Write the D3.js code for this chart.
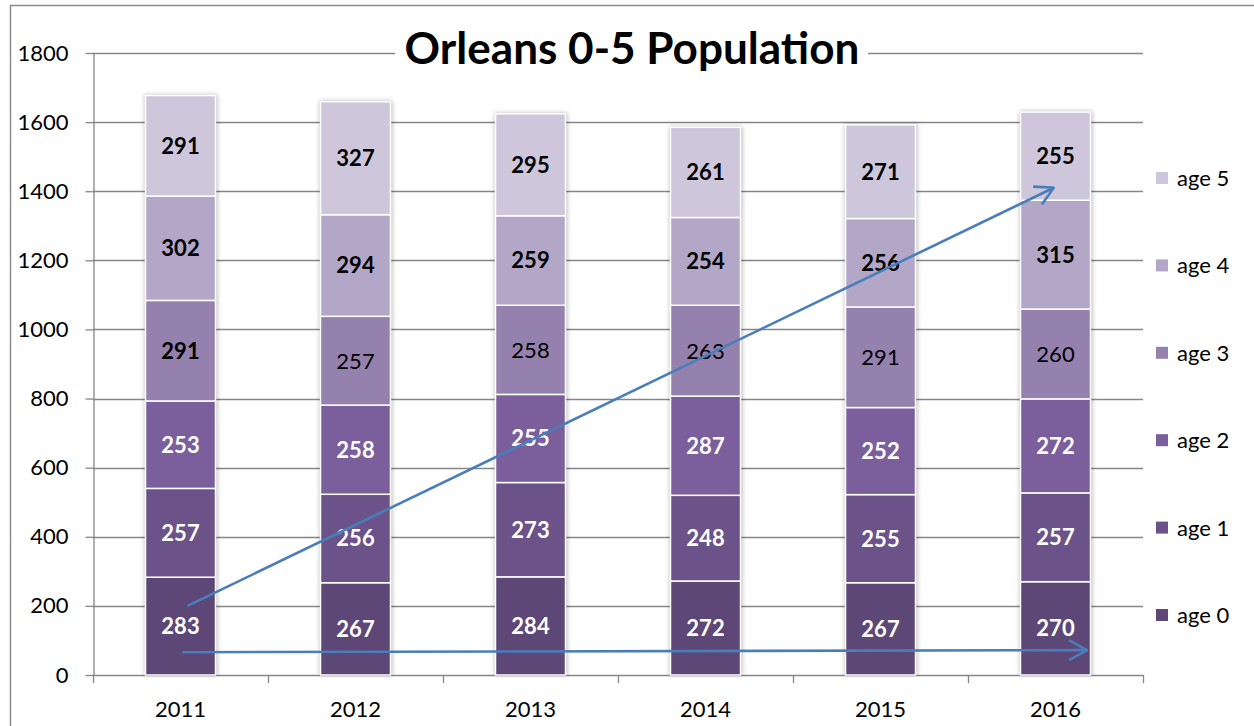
<!DOCTYPE html>
<html>
<head>
<meta charset="utf-8">
<script src="https://cdn.jsdelivr.net/npm/d3@7"></script>
<style>
  body { margin: 0; background: #fff; }
  svg { display: block; font-family: Lato, "Open Sans", sans-serif; }
</style>
</head>
<body>
<script>
// Chart size
var svg_width = 1254;
var svg_height = 726;

// Data
var years = ["2011", "2012", "2013", "2014", "2015", "2016"];
var ages = ["age 0", "age 1", "age 2", "age 3", "age 4", "age 5"];
var age0 = [283, 267, 284, 272, 267, 270];
var age1 = [257, 256, 273, 248, 255, 257];
var age2 = [253, 258, 255, 287, 252, 272];
var age3 = [291, 257, 258, 263, 291, 260];
var age4 = [302, 294, 259, 254, 256, 315];
var age5 = [291, 327, 295, 261, 271, 255];
var yTicks = [0, 200, 400, 600, 800, 1000, 1200, 1400, 1600, 1800];

// label styling per segment (only the 2011 age 3 label is bold)
var age3Bold = [true, false, false, false, false, false];

// hand-drawn arrows: [category position, value] pairs
var arrowUp = [[0.54, 200], [5.49, 1410]];
var arrowFlat = [[0.51, 66], [5.68, 72]];

var colors = ["#5d4777", "#6b5389", "#7b5f9c", "#9581ae", "#b2a7c7", "#cec7db"];
var labelColors = ["#fff", "#fff", "#fff", "#000", "#000", "#000"];

var series = [age0, age1, age2, age3, age4, age5];
var rows = years.map(function(yr, i) {
    var r = { year: yr };
    ages.forEach(function(a, k) { r[a] = series[k][i]; });
    return r;
});

var svg = d3.select("body").append("svg")
    .attr("width", svg_width)
    .attr("height", svg_height);

var defs = svg.append("defs");
defs.append("filter")
    .attr("id", "shadow")
    .attr("x", "-20%").attr("y", "-5%").attr("width", "140%").attr("height", "110%")
    .append("feGaussianBlur")
    .attr("stdDeviation", 2);

defs.append("marker")
    .attr("id", "head")
    .attr("markerUnits", "userSpaceOnUse")
    .attr("viewBox", "0 0 20 22")
    .attr("refX", 19).attr("refY", 11)
    .attr("markerWidth", 20).attr("markerHeight", 22)
    .attr("orient", "auto")
    .append("path")
    .attr("d", "M1,1 L19,11 L1,21")
    .attr("fill", "none")
    .attr("stroke", "#4a7ebb")
    .attr("stroke-width", 2.6);

// Scales
var y = d3.scaleLinear().domain([0, 1800]).range([675, 53]);
var x = d3.scaleBand().domain(years).range([93, 1143])
    .paddingInner(0.6).paddingOuter(0.3);
var xPos = d3.scaleLinear().domain([0, years.length]).range([93, 1143]);

// cut off heading from the page above the chart (only descenders show)
svg.append("text")
    .attr("x", 612).attr("y", -7)
    .style("font-family", "'Liberation Serif', serif")
    .style("font-weight", "bold")
    .style("font-size", "32px")
    .text("population in Orleans Parish,");

// outer frame
svg.append("line").attr("x1", 10).attr("x2", svg_width).attr("y1", 5.5).attr("y2", 5.5)
    .attr("stroke", "#8a8a8a").attr("stroke-width", 1.5);
svg.append("line").attr("x1", 10.5).attr("x2", 10.5).attr("y1", 5).attr("y2", svg_height)
    .attr("stroke", "#8a8a8a").attr("stroke-width", 1.5);

// gridlines
svg.append("g").selectAll("line")
    .data(yTicks.filter(function(d) { return d > 0; }))
    .enter().append("line")
    .attr("x1", 93).attr("x2", 1143)
    .attr("y1", function(d) { return Math.round(y(d)) + 0.5; })
    .attr("y2", function(d) { return Math.round(y(d)) + 0.5; })
    .attr("stroke", "#868686").attr("stroke-width", 1.3);

// y axis
var yAxis = svg.append("g")
    .attr("transform", "translate(93.5,0)")
    .call(d3.axisLeft(y).tickValues(yTicks).tickFormat(d3.format("d"))
        .tickSize(8).tickPadding(17).tickSizeOuter(0));
yAxis.select(".domain").attr("stroke", "#868686").attr("stroke-width", 1.3);
yAxis.selectAll(".tick line").attr("stroke", "#868686").attr("stroke-width", 1.3);
yAxis.selectAll(".tick text")
    .style("font-family", "Lato, sans-serif")
    .style("font-size", "22px")
    .attr("fill", "#000");

// x axis
var xg = svg.append("g");
xg.append("line")
    .attr("x1", 93).attr("x2", 1143).attr("y1", y(0) + 0.5).attr("y2", y(0) + 0.5)
    .attr("stroke", "#868686").attr("stroke-width", 1.3);
xg.selectAll(".xt")
    .data(d3.range(years.length + 1))
    .enter().append("line")
    .attr("class", "xt")
    .attr("x1", function(d) { return Math.round(xPos(d)) + 0.5; })
    .attr("x2", function(d) { return Math.round(xPos(d)) + 0.5; })
    .attr("y1", y(0)).attr("y2", y(0) + 8)
    .attr("stroke", "#868686").attr("stroke-width", 1.3);
xg.selectAll(".xl")
    .data(years)
    .enter().append("text")
    .attr("class", "xl")
    .attr("x", function(d) { return x(d) + x.bandwidth() / 2; })
    .attr("y", 717)
    .attr("text-anchor", "middle")
    .style("font-size", "22px")
    .text(function(d) { return d; });

// stacked bars
var stacked = d3.stack().keys(ages)(rows);
var tops = stacked[stacked.length - 1];

svg.append("g").selectAll("rect")
    .data(tops)
    .enter().append("rect")
    .attr("x", function(d) { return x(d.data.year) - 1; })
    .attr("y", function(d) { return y(d[1]) - 1; })
    .attr("width", x.bandwidth() + 3)
    .attr("height", function(d) { return y(0) - y(d[1]) + 1; })
    .attr("fill", "#000")
    .attr("opacity", 0.25)
    .attr("filter", "url(#shadow)");

var layers = svg.append("g").selectAll("g")
    .data(stacked)
    .enter().append("g")
    .attr("fill", function(d, k) { return colors[k]; });

layers.selectAll("rect")
    .data(function(d) { return d; })
    .enter().append("rect")
    .attr("x", function(d) { return x(d.data.year); })
    .attr("y", function(d) { return y(d[1]); })
    .attr("width", x.bandwidth())
    .attr("height", function(d) { return y(d[0]) - y(d[1]); })
    .attr("stroke", "#fff")
    .attr("stroke-width", 1.5);

// segment labels
layers.each(function(layer, k) {
    d3.select(this).selectAll("text")
        .data(layer)
        .enter().append("text")
        .attr("x", function(d) { return x(d.data.year) + x.bandwidth() / 2; })
        .attr("y", function(d) { return (y(d[0]) + y(d[1])) / 2; })
        .attr("dy", "0.36em")
        .attr("text-anchor", "middle")
        .attr("fill", labelColors[k])
        .style("font-size", "22px")
        .style("font-weight", function(d, i) {
            return (k == 3 && !age3Bold[i]) ? "normal" : "bold";
        })
        .text(function(d) { return d[1] - d[0]; });
});

// arrows
[arrowUp, arrowFlat].forEach(function(a) {
    svg.append("line")
        .attr("x1", xPos(a[0][0])).attr("y1", y(a[0][1]))
        .attr("x2", xPos(a[1][0])).attr("y2", y(a[1][1]))
        .attr("stroke", "#4a7ebb")
        .attr("stroke-width", 2.6)
        .attr("marker-end", "url(#head)");
});

// legend
var legendY = d3.scalePoint().domain(ages.slice().reverse()).range([178, 615]);
var legend = svg.append("g").selectAll("g")
    .data(ages)
    .enter().append("g")
    .attr("transform", function(d) { return "translate(1156," + legendY(d) + ")"; });
legend.append("rect")
    .attr("x", 0).attr("y", -6).attr("width", 12).attr("height", 12)
    .attr("fill", function(d, k) { return colors[k]; });
legend.append("text")
    .attr("x", 21).attr("y", 0).attr("dy", "0.36em")
    .style("font-size", "22px")
    .text(function(d) { return d; });

// title with white box over the top gridline
var titleBox = svg.append("rect")
    .attr("x", 395).attr("y", 38).attr("width", 473).attr("height", 30)
    .attr("fill", "#fff");
var title = svg.append("text")
    .attr("x", 632).attr("y", 64)
    .attr("text-anchor", "middle")
    .style("font-weight", "bold")
    .style("font-size", "34px")
    .text("Orleans 0-5 Population");
var tw = title.node().getComputedTextLength();
title.style("font-size", (34 * 455 / tw) + "px");
</script>
</body>
</html>
